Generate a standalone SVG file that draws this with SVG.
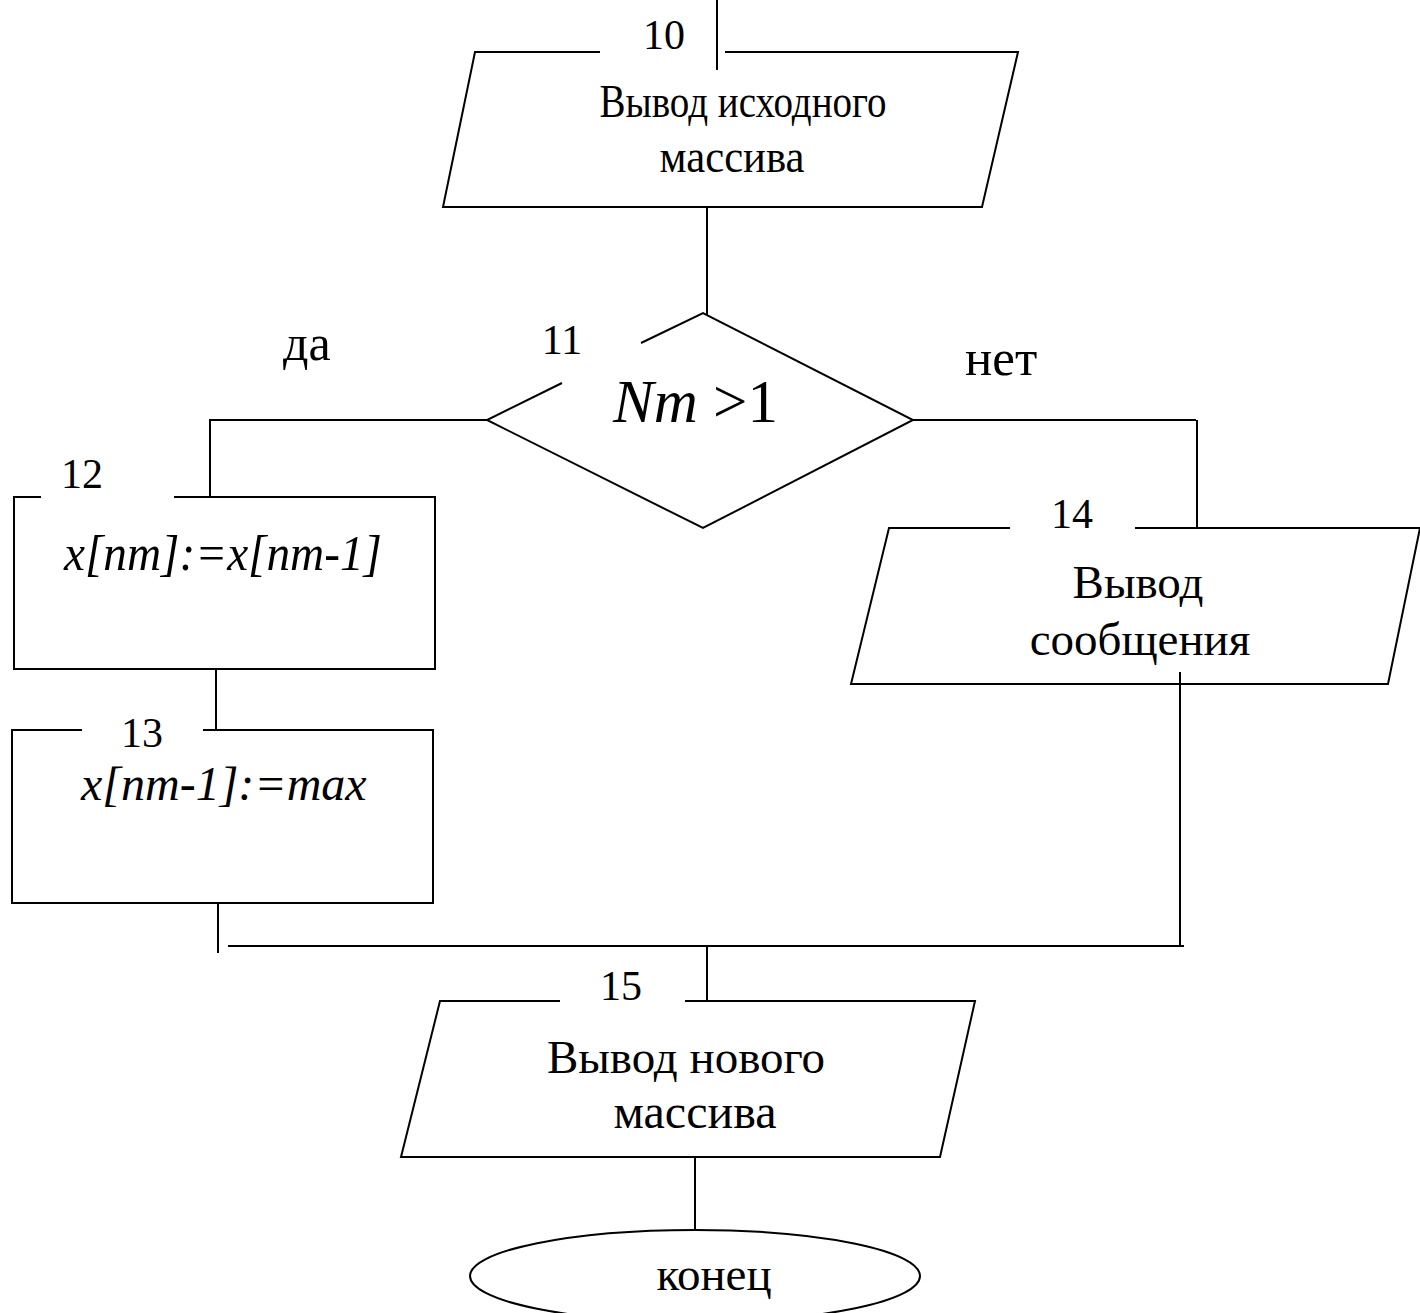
<svg xmlns="http://www.w3.org/2000/svg" width="1420" height="1313" viewBox="0 0 1420 1313">
  <style>
    .ln { fill: none; stroke: #000; stroke-width: 2; }
    .t { font-family: "Liberation Serif", "Times New Roman", serif; fill: #000; }
    .lbl { font-size: 47px; }
    .num { font-size: 42px; }
    .it { font-style: italic; }
  </style>
  <rect width="1420" height="1313" fill="#fff"/>

  <g id="connectors">
    <line class="ln" x1="717" y1="0" x2="717" y2="70"/>
    <line class="ln" x1="707" y1="207" x2="707" y2="315"/>
    <polyline class="ln" points="487,420 210,420 210,497"/>
    <line class="ln" x1="913" y1="420" x2="1196" y2="420"/>
    <line class="ln" x1="1197" y1="420" x2="1197" y2="528"/>
    <line class="ln" x1="216" y1="669" x2="216" y2="730"/>
    <line class="ln" x1="218" y1="903" x2="218" y2="953"/>
    <line class="ln" x1="228" y1="946" x2="1184" y2="946"/>
    <line class="ln" x1="1180" y1="672" x2="1180" y2="946"/>
    <line class="ln" x1="707" y1="946" x2="707" y2="1001"/>
    <line class="ln" x1="695" y1="1157" x2="695" y2="1230"/>
    <text class="t" x="283" y="360" font-size="50">да</text>
    <text class="t" x="965" y="375" font-size="51">нет</text>
  </g>

  <g id="n10">
    <polyline class="ln" points="600,52 475,52 443,207 982,207 1018,52 725,52"/>
    <text class="t num" x="664" y="49" text-anchor="middle">10</text>
    <text class="t" x="743" y="117" font-size="46" text-anchor="middle" textLength="287" lengthAdjust="spacingAndGlyphs">Вывод исходного</text>
    <text class="t" x="732" y="172" font-size="46" text-anchor="middle" textLength="145" lengthAdjust="spacingAndGlyphs">массива</text>
  </g>

  <g id="n11">
    <polyline class="ln" points="641,343 703,313 913,420 703,528 487,420 562,383"/>
    <text class="t num" x="562" y="354" text-anchor="middle">11</text>
    <text class="t" x="613" y="422" font-size="61"><tspan class="it">Nm</tspan> &gt;1</text>
  </g>

  <g id="n12">
    <polyline class="ln" points="41,497 14,497 14,669 435,669 435,497 174,497"/>
    <text class="t num" x="82" y="488" text-anchor="middle">12</text>
    <text class="t it" x="64" y="570" font-size="50" textLength="318" lengthAdjust="spacingAndGlyphs">x[nm]:=x[nm-1]</text>
  </g>

  <g id="n13">
    <polyline class="ln" points="82,730 12,730 12,903 433,903 433,730 203,730"/>
    <text class="t num" x="142" y="747" text-anchor="middle">13</text>
    <text class="t it" x="81" y="800" font-size="48">x[nm-1]:=max</text>
  </g>

  <g id="n14">
    <polyline class="ln" points="1010,528 889,528 851,684 1388,684 1420,528 1135,528"/>
    <text class="t num" x="1072" y="528" text-anchor="middle">14</text>
    <text class="t lbl" x="1138" y="598" text-anchor="middle">Вывод</text>
    <text class="t lbl" x="1140" y="655" text-anchor="middle">сообщения</text>
  </g>

  <g id="n15">
    <polyline class="ln" points="560,1001 440,1001 401,1157 940,1157 975,1001 685,1001"/>
    <text class="t num" x="621" y="1000" text-anchor="middle">15</text>
    <text class="t lbl" x="686" y="1073" text-anchor="middle">Вывод нового</text>
    <text class="t" x="695" y="1128" font-size="48" text-anchor="middle">массива</text>
  </g>

  <g id="end">
    <ellipse class="ln" cx="695" cy="1276" rx="225" ry="46"/>
    <text class="t lbl" x="714" y="1290" text-anchor="middle">конец</text>
  </g>
</svg>
